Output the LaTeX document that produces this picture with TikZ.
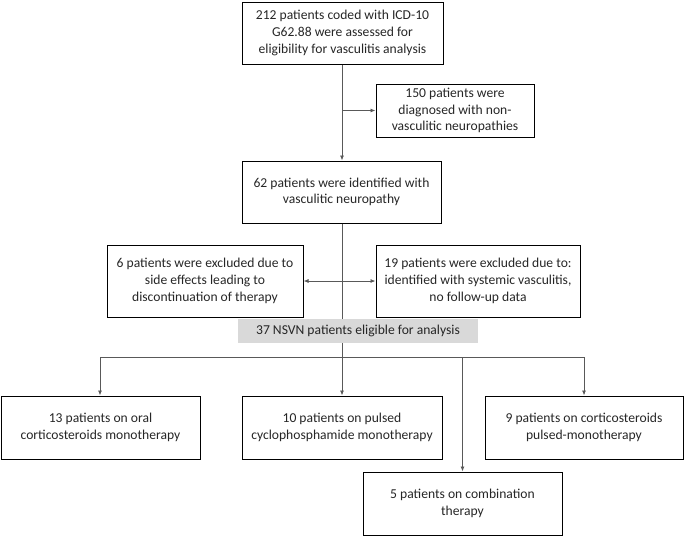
\documentclass[tikz,border=0pt]{standalone}
\usepackage{fontspec}
\setmainfont{Carlito}
\usetikzlibrary{arrows.meta}
\definecolor{txt}{HTML}{262626}
\definecolor{ln}{HTML}{595959}
\definecolor{barfill}{HTML}{D9D9D9}
\tikzset{
  x=1pt,y=-1pt,
  boxnode/.style={draw=black,line width=1pt,align=center,inner sep=2pt,text=txt,
    font=\fontsize{13.6}{16.7}\selectfont},
  barnode/.style={fill=barfill,draw=none,align=center,inner sep=2pt,text=txt,
    font=\fontsize{13.6}{16.7}\selectfont},
  conn/.style={draw=ln,line width=0.8pt},
  arr/.style={conn,-{Latex[length=5pt,width=4pt]}},
  darr/.style={conn,{Latex[length=5pt,width=4pt]}-{Latex[length=5pt,width=4pt]}}
}
\begin{document}
\begin{tikzpicture}
\useasboundingbox (0,0) rectangle (685,536);
\node[boxnode,minimum width=201pt,minimum height=62pt] (b1) at (342.5,33) {212 patients coded with ICD-10\\G62.88 were assessed for\\eligibility for vasculitis analysis};
\node[boxnode,minimum width=158pt,minimum height=53pt] (b2) at (455,110.5) {150 patients were\\diagnosed with non-\\vasculitic neuropathies};
\node[boxnode,minimum width=199pt,minimum height=62pt] (b3) at (341.5,192) {62 patients were identified with\\vasculitic neuropathy};
\node[boxnode,minimum width=196pt,minimum height=72pt] (b4) at (205,281) {6 patients were excluded due to\\side effects leading to\\discontinuation of therapy};
\node[boxnode,minimum width=204pt,minimum height=72pt] (b5) at (478,281) {19 patients were excluded due to:\\identified with systemic vasculitis,\\no follow-up data};
\node[barnode,minimum width=240pt,minimum height=24pt] (bar) at (358,331) {37 NSVN patients eligible for analysis};
\node[boxnode,minimum width=199pt,minimum height=63pt] (ba) at (100.5,427.5) {13 patients on oral\\corticosteroids monotherapy};
\node[boxnode,minimum width=200pt,minimum height=63pt] (bb) at (342,427.5) {10 patients on pulsed\\cyclophosphamide monotherapy};
\node[boxnode,minimum width=198pt,minimum height=63pt] (bc) at (584,427.5) {9 patients on corticosteroids\\pulsed-monotherapy};
\node[boxnode,minimum width=199pt,minimum height=63pt] (bd) at (462.5,503.5) {5 patients on combination\\therapy};
% coordinates
\coordinate (j1) at (342,110.5);
\coordinate (j2) at (342,281);
\coordinate (hl) at (100,357);
\coordinate (hr) at (584,357);
\coordinate (hm) at (342,357);
\coordinate (hd) at (462.5,357);
% connectors
\draw[arr] (b1.south -| j1) -- (b3.north -| j1);
\draw[arr] (j1) -- (b2.west);
\draw[conn] (b3.south -| j2) -- (bar.north -| j2);
\draw[darr] (b4.east) -- (b5.west);
\draw[conn] (hl) -- (hr);
\draw[arr] (bar.south -| hm) -- (bb.north -| hm);
\draw[arr] (hl) -- (ba.north -| hl);
\draw[arr] (hr) -- (bc.north -| hr);
\draw[arr] (hd) -- (bd.north);
\end{tikzpicture}
\end{document}
